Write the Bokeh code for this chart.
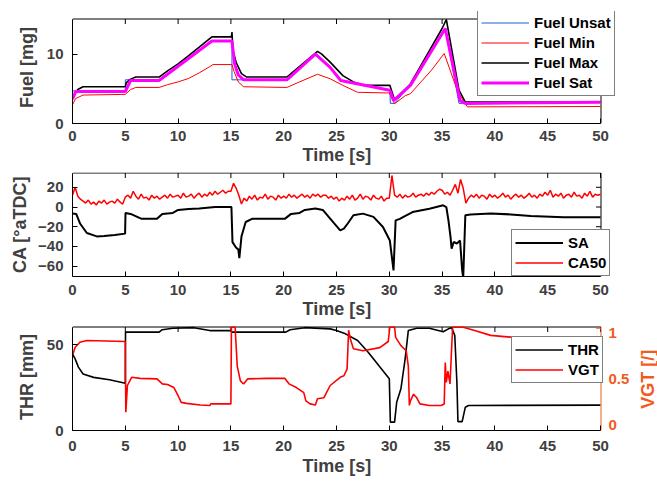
import math
from bokeh.plotting import figure
from bokeh.models import Range1d, FixedTicker, Legend, LegendItem, Title
from bokeh.core.properties import value
from bokeh.layouts import column
from bokeh.embed import file_html
from bokeh.resources import INLINE

# ---------------- data ----------------
x_ticks = [0, 5, 10, 15, 20, 25, 30, 35, 40, 45, 50]
fuel_ticks = [0, 10]
ca_ticks = [-60, -40, -20, 0, 20]
thr_ticks = [0, 50]
vgt_ticks = [0, 0.5, 1]
vgt_tick_labels = ["0", "0.5", "1"]

fuel_unsat_t = [0, 5.0, 5.0, 8.2, 13.2, 15.1, 15.1, 20.3, 23.0, 24.4, 25.4, 30.05, 30.1, 30.5, 32.0, 35.3, 36.6, 50]
fuel_unsat = [4.7, 4.7, 6.3, 6.3, 11.9, 11.9, 6.3, 6.3, 10.0, 8.1, 6.2, 4.8, 2.9, 2.9, 5.6, 13.7, 2.9, 3.05]

fuel_min_t = [0, 0.3, 1.0, 5.0, 5.5, 6.0, 8.2, 9.0, 10.0, 11.0, 12.0, 13.0, 13.3, 15.1, 15.3, 15.7, 16.2, 20.3,
              21.5, 23.2, 24.4, 25.6, 27.0, 30.0, 30.5, 31.5, 32.0, 33.0, 34.0, 35.2, 36.5, 37.4, 50]
fuel_min = [2.7, 3.6, 4.1, 4.2, 4.9, 5.2, 5.2, 5.6, 6.0, 6.5, 7.3, 8.2, 8.5, 8.5, 7.5, 6.0, 5.3, 5.2,
            6.0, 7.1, 6.45, 5.5, 4.5, 4.4, 2.85, 4.0, 4.3, 6.0, 7.7, 10.1, 4.5, 2.4, 2.45]

fuel_max_t = [0, 0.5, 1.0, 5.0, 5.1, 5.5, 6.0, 8.2, 9.0, 10.0, 11.0, 12.0, 13.2, 15.05, 15.1, 15.2, 15.5, 16.0,
              16.5, 20.3, 23.2, 23.6, 24.4, 25.6, 26.6, 27.6, 30.05, 30.5, 32.0, 35.0, 35.4, 36.6, 37.2, 50]
fuel_max = [3.8, 4.9, 5.3, 5.3, 5.9, 6.4, 6.7, 6.7, 7.6, 8.6, 9.8, 11.0, 12.5, 12.5, 13.2, 10.5, 8.8, 7.2,
            6.7, 6.7, 10.4, 10.0, 8.85, 6.9, 6.0, 5.5, 5.5, 3.4, 5.7, 13.7, 15.0, 4.8, 3.1, 3.1]

fuel_sat_t = [0, 0.3, 5.0, 5.5, 8.2, 13.2, 15.1, 15.35, 15.7, 16.2, 20.3, 23.0, 24.4, 25.4, 30.05, 30.4, 32.0,
              35.3, 36.7, 37.2, 50]
fuel_sat = [3.5, 4.6, 4.6, 6.2, 6.2, 11.9, 11.9, 8.6, 7.0, 6.3, 6.3, 10.0, 8.1, 6.2, 4.8, 3.3, 5.5,
            13.7, 3.3, 2.9, 3.05]

sa_t = [0, 0.35, 0.73, 1.36, 2.3, 3.0, 4.0, 4.98, 5.02, 5.5, 6.5, 8.0, 8.5, 9.5, 10.0, 11.0, 12.0, 13.0, 13.5,
        15.05, 15.15, 15.5, 15.7, 15.8, 16.0, 16.4, 17.0, 20.1, 20.7, 21.5, 22.0, 23.0, 23.7, 24.4, 25.35, 25.7,
        26.1, 26.6, 27.5, 28.5, 29.4, 30.05, 30.4, 30.6, 31.0, 31.3, 32.2, 33.8, 35.1, 35.4, 35.6, 35.8, 35.9,
        36.1, 36.4, 36.7, 36.9, 37.0, 37.2, 37.7, 39.6, 41.5, 43.4, 46.5, 50.0]
sa = [-6.7, -7, -17, -26.4, -29.8, -29.5, -28.5, -27, -6, -7, -11.8, -12, -7, -6, -3, -2, -1.5, -0.5, 0,
      0, -35.6, -41.3, -43, -51.8, -30, -15.2, -12, -12, -7, -6, -3, -1.5, -3, -11.8, -23.7, -22,
      -16.2, -8.4, -6.7, -10, -20.3, -33.9, -64.4, -13.6, -12, -10.2, -5.1, -1.7, 1.7, 0, -13.6, -30.5, -42.3,
      -35.5, -37, -34, -64, -72, -8.4, -7.5, -6.7, -7.5, -9, -10.5, -10.5]

ca50_dt = 0.25
ca50 = [12, 20, 11, 8, 6, 4, 7, 3, 5, 2, 6, 4, 7, 3, 5, 6, 4, 8, 5, 3,
        10, 12, 9, 16, 11, 8, 13, 9, 10, 7, 12, 9, 11, 8, 10, 12, 9, 13, 10, 11,
        12, 9, 14, 10, 11, 13, 9, 12, 14, 10, 13, 11, 15, 12, 16, 13, 15, 17, 14, 16,
        16, 24, 19, 12, 3, 9, 6, 11, 8, 12, 7, 10, 9, 13, 8, 11, 10, 7, 12, 9,
        11, 9, 13, 10, 12, 9, 11, 13, 10, 12, 9, 13, 11, 13, 10, 12, 12, 9, 11, 8,
        10, 6, 9, 7, 11, 8, 12, 7, 9, 13, 8, 11, 10, 7, 12, 9, 8, 11, 6, 9,
        9, 32, 12, 10, 13, 9, 12, 10, 11, 14, 10, 12, 13, 11, 14, 12, 15, 13, 16, 18,
        17, 13, 15, 12, 17, 23, 14, 28, 19, 4, 9, 12, 10, 13, 9, 12, 11, 8, 13, 10,
        12, 9, 11, 14, 10, 12, 8, 11, 13, 10, 12, 9, 11, 14, 10, 12, 9, 13, 11, 15,
        12, 17, 10, 13, 11, 14, 9, 12, 13, 10, 15, 11, 12, 9, 14, 11, 16, 10, 13, 12,
        13]
ca50_t = [i * ca50_dt for i in range(len(ca50))]

thr_t = [0, 0.25, 0.56, 1.0, 2.0, 3.5, 5.0, 5.02, 8.2, 8.5, 9.5, 11.5, 13.0, 15.0, 15.1, 20.2, 20.6, 22.0,
         24.4, 25.0, 25.85, 27.0, 28.0, 29.0, 30.0, 30.1, 30.5, 30.7, 31.1, 31.5, 31.8, 32.6, 33.8, 35.1,
         35.6, 35.9, 36.2, 36.4, 36.5, 36.9, 37.2, 37.5, 50]
thr = [44.7, 41.8, 37, 33, 31, 29.6, 27.6, 57.4, 57.4, 58.8, 59.7, 60, 58.3, 58.3, 57.4, 57.4, 58.8, 60,
       59.3, 58.3, 56.4, 52.5, 45.7, 37.9, 30.2, 4.9, 4.9, 16.5, 24.3, 41.8, 58.3, 59.7, 59.7, 57.6,
       59.3, 60, 55.4, 28.2, 5.2, 5.2, 13.6, 14.6, 14.8]

vgt_t = [0, 0.25, 0.7, 1.36, 5.0, 5.05, 5.2, 5.6, 6.4, 8.0, 8.5, 9.0, 9.6, 10.0, 10.3, 10.8, 12.1, 13.0, 13.1,
         15.0, 15.05, 15.4, 15.6, 15.9, 16.2, 16.6, 18.4, 20.1, 20.5, 21.2, 21.9, 22.1, 22.5, 23.0, 23.2, 23.8,
         24.4, 25.35, 25.7, 26.0, 26.15, 26.3, 26.6, 27.5, 29.1, 29.9, 30.05, 30.5, 30.6, 31.1, 31.6, 31.8,
         31.9, 32.0, 32.3, 32.6, 32.9, 33.8, 34.9, 35.2, 35.3, 35.4, 35.55, 35.75, 35.9, 36.0, 37.0, 38.0,
         39.6, 41.8, 46.5, 50.0]
vgt = [0.733, 0.814, 0.863, 0.88, 0.87, 0.179, 0.44, 0.52, 0.51, 0.505, 0.456, 0.45, 0.42, 0.34, 0.275, 0.265,
       0.25, 0.245, 0.26, 0.26, 1.01, 1.01, 0.63, 0.485, 0.455, 0.505, 0.51, 0.51, 0.456, 0.42, 0.37, 0.29,
       0.26, 0.25, 0.31, 0.32, 0.44, 0.52, 0.535, 0.6, 0.98, 0.9, 0.8, 0.78, 0.81, 0.87, 1.01, 1.01, 0.91,
       0.83, 0.78, 0.63, 0.245, 0.29, 0.355, 0.32, 0.26, 0.245, 0.245, 0.26, 0.665, 0.47, 0.58, 0.455, 0.8,
       1.01, 1.01, 0.98, 0.93, 0.91, 0.91, 0.915]

X_LIM = (0, 50)
FUEL_LIM = (0, 15)
CA_LIM = (-70.5, 34)
THR_LIM = (0, 60.1)
VGT_LIM = (0, 1.007)

# ---------------- style / geometry ----------------
FONT = "Liberation Sans"
TXT = "#404040"
ORANGE = "#f25a1e"
W = 657
LEFT = 72            # left border (px)
BOX_W = 528          # axes box width (px)
EXT_R = W - LEFT - BOX_W   # frame continues right of the box (legends / right axis live there)
TICK = 5
XPX = BOX_W / (X_LIM[1] - X_LIM[0])
X_END = X_LIM[1] + EXT_R / XPX
TIME_OFFSET = 230    # left offset of the "Time [s]" title (px from box left)


def style(ax, ticker, tick_sd, label, label_sd, color="black", text_color=TXT):
    ax.ticker = ticker
    ax.axis_line_color = color
    ax.axis_line_width = 1
    ax.major_tick_line_color = color
    ax.major_tick_in = TICK
    ax.major_tick_out = 0
    ax.minor_tick_line_color = None
    ax.major_label_text_font = FONT
    ax.major_label_text_font_style = "bold"
    ax.major_label_text_font_size = "15px"
    ax.major_label_text_color = text_color
    ax.major_label_standoff = tick_sd
    ax.axis_label = label
    ax.axis_label_text_font = FONT
    ax.axis_label_text_font_style = "bold"
    ax.axis_label_text_font_size = "18px"
    ax.axis_label_text_color = text_color
    ax.axis_label_standoff = label_sd


def make_legend(items, loc):
    lg = Legend(items=items, location=loc)
    lg.border_line_color = "black"
    lg.border_line_width = 1
    lg.background_fill_color = "white"
    lg.background_fill_alpha = 1
    lg.label_text_font = FONT
    lg.label_text_font_style = "bold"
    lg.label_text_font_size = "15px"
    lg.label_text_color = "black"
    lg.glyph_width = 48
    lg.glyph_height = 19
    lg.label_height = 19
    lg.spacing = 1
    lg.padding = 3
    lg.margin = 0
    lg.label_standoff = 5
    return lg


def panel(height, top, bottom, box_h, ext_top, ylim, yticks, ylabel, tick_sd, ylabel_sd, title_sd,
          right_box=True):
    ypx = box_h / (ylim[1] - ylim[0])
    p = figure(width=W, height=height, x_range=Range1d(X_LIM[0], X_END),
               y_range=Range1d(ylim[0], ylim[1] + ext_top / ypx),
               output_backend="svg", toolbar_location=None,
               min_border_left=LEFT, min_border_right=0, min_border_top=top, min_border_bottom=bottom)
    p.xgrid.visible = False
    p.ygrid.visible = False
    p.outline_line_color = None
    p.background_fill_color = "white"
    p.border_fill_color = "white"
    style(p.xaxis[0], FixedTicker(ticks=x_ticks), tick_sd, None, 0)
    style(p.yaxis[0], FixedTicker(ticks=yticks), 9, ylabel, ylabel_sd)
    p.xaxis[0].bounds = X_LIM
    p.yaxis[0].bounds = ylim
    t = Title(text="Time [s]", align="left", offset=TIME_OFFSET, standoff=title_sd, vertical_align="top",
              text_font=FONT, text_font_style="bold", text_font_size="18px", text_color=TXT)
    p.add_layout(t, "below")
    # top (and right) side of the box, with inward ticks
    xb = X_LIM[1] + 0.5 / XPX
    yb = ylim[1] + 0.5 / ypx
    p.segment(x0=[X_LIM[0]], y0=[yb], x1=[xb], y1=[yb], line_color="black", line_width=1)
    p.segment(x0=x_ticks, y0=[yb] * len(x_ticks), x1=x_ticks, y1=[yb - TICK / ypx] * len(x_ticks),
              line_color="black", line_width=1)
    if right_box:
        p.segment(x0=[xb], y0=[ylim[0]], x1=[xb], y1=[yb], line_color="black", line_width=1)
        p.segment(x0=[xb] * len(yticks), y0=yticks, x1=[xb - TICK / XPX] * len(yticks), y1=yticks,
                  line_color="black", line_width=1)
    return p


# ---------------- panel 1 ----------------
p1 = panel(171, 11, 48, 104, 8, FUEL_LIM, fuel_ticks, "Fuel [mg]", 7, 7, 2)
r_un = p1.line(fuel_unsat_t, fuel_unsat, line_color="#1f5fd6", line_width=1)
r_mi = p1.line(fuel_min_t, fuel_min, line_color="#ff0000", line_width=1)
r_ma = p1.line(fuel_max_t, fuel_max, line_color="black", line_width=1.6)
r_sa = p1.line(fuel_sat_t, fuel_sat, line_color="#ff00ff", line_width=3)
p1.add_layout(make_legend([
    LegendItem(label="Fuel Unsat", renderers=[r_un]),
    LegendItem(label="Fuel Min", renderers=[r_mi]),
    LegendItem(label="Fuel Max", renderers=[r_ma]),
    LegendItem(label="Fuel Sat", renderers=[r_sa]),
], (405, 27)))

# ---------------- panel 2 ----------------
p2 = panel(152, 1, 47, 103, 1, CA_LIM, ca_ticks, "CA [°aTDC]", 8, 5, 2)
r_sa2 = p2.line(sa_t, sa, line_color="black", line_width=2)
r_ca = p2.line(ca50_t, ca50, line_color="#ff0000", line_width=1.5)
p2.add_layout(make_legend([
    LegendItem(label="SA", renderers=[r_sa2]),
    LegendItem(label="CA50", renderers=[r_ca]),
], (439, 0)))

# ---------------- panel 3 ----------------
p3 = panel(159, 0, 52, 103, 4, THR_LIM, thr_ticks, "THR [mm]", 10, 7, 4, right_box=False)
vpx = 103 / (VGT_LIM[1] - VGT_LIM[0])
p3.extra_y_ranges = {"vgt": Range1d(VGT_LIM[0], VGT_LIM[1] + 4 / vpx)}
r_thr = p3.line(thr_t, thr, line_color="black", line_width=1.6)
r_vgt = p3.line(vgt_t, vgt, line_color="#ff0000", line_width=1.6, y_range_name="vgt")
# right (orange) VGT axis
xb3 = X_LIM[1] + 0.5 / XPX
p3.segment(x0=[xb3], y0=[VGT_LIM[0]], x1=[xb3], y1=[VGT_LIM[1] + 0.5 / vpx], line_color=ORANGE, line_width=1,
           y_range_name="vgt")
p3.segment(x0=[xb3] * len(vgt_ticks), y0=vgt_ticks, x1=[xb3 - TICK / XPX] * len(vgt_ticks), y1=vgt_ticks,
           line_color=ORANGE, line_width=1, y_range_name="vgt")
p3.text(x=[X_LIM[1] + 8 / XPX] * len(vgt_ticks), y=vgt_ticks, text=vgt_tick_labels, y_range_name="vgt",
        y_offset=[-6, 0, 5], text_align="left", text_baseline="middle",
        text_font=value(FONT), text_font_style="bold", text_font_size="15px", text_color=ORANGE)
p3.text(x=[X_LIM[1] + 47 / XPX], y=[0.5], text=["VGT [/]"], y_range_name="vgt", angle=math.pi / 2,
        text_align="center", text_baseline="middle",
        text_font=value(FONT), text_font_style="bold", text_font_size="18px", text_color=ORANGE)
p3.add_layout(make_legend([
    LegendItem(label="THR", renderers=[r_thr]),
    LegendItem(label="VGT", renderers=[r_vgt]),
], (439, 47)))

layout = column(p1, p2, p3, spacing=0)
open("out.html", "w").write(file_html(layout, INLINE))
